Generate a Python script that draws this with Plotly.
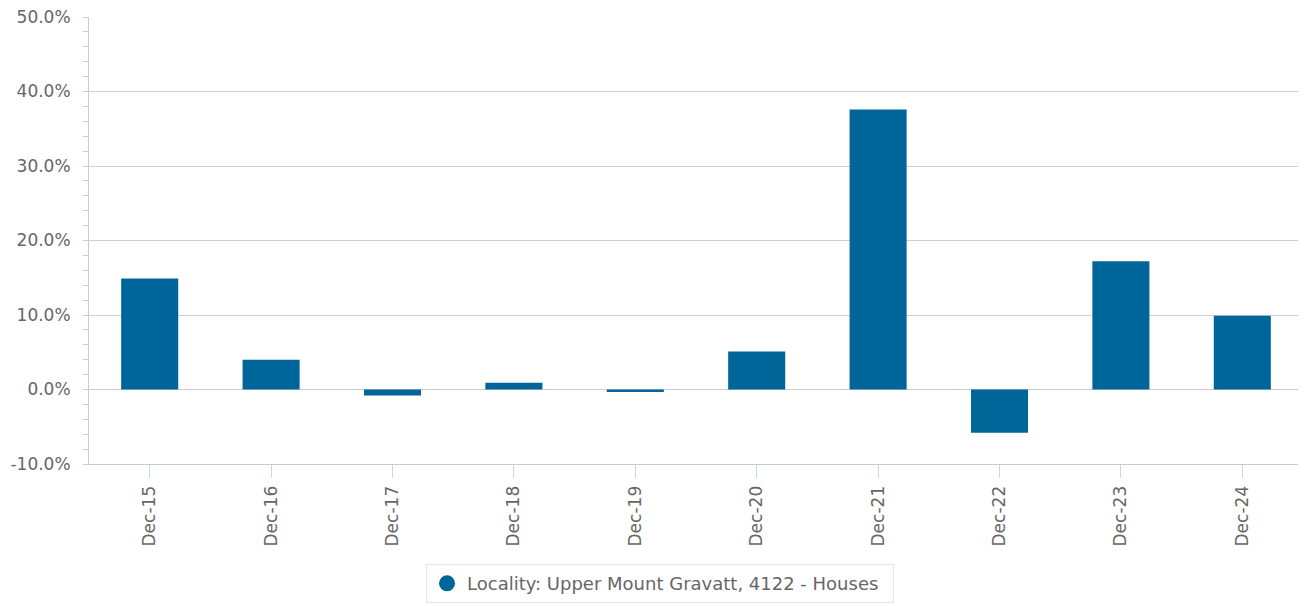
import plotly.graph_objects as go

categories = ["Dec-15", "Dec-16", "Dec-17", "Dec-18", "Dec-19",
              "Dec-20", "Dec-21", "Dec-22", "Dec-23", "Dec-24"]
growth_pct = [14.9, 4.0, -0.8, 0.9, -0.35, 5.1, 37.6, -5.8, 17.2, 9.9]
series_name = "Locality: Upper Mount Gravatt, 4122 - Houses"
y_ticks = [-10, 0, 10, 20, 30, 40, 50]

BAR = "#006699"
FONT = "DejaVu Sans"

fig = go.Figure()
fig.add_trace(go.Bar(
    x=categories, y=growth_pct, marker_color=BAR,
    marker_line_width=0, width=0.47, showlegend=False,
))
fig.add_trace(go.Scatter(
    x=[None], y=[None], mode="markers", name=series_name,
    marker=dict(symbol="circle", size=16, color=BAR),
))

# page body has an 8px default margin, so the figure is drawn 8px smaller
fig.update_layout(
    width=1298, height=598,
    margin=dict(l=81, r=3, t=9, b=142),
    plot_bgcolor="white", paper_bgcolor="white",
    font=dict(family=FONT, size=17, color="#666666"),
    legend=dict(
        orientation="h", x=0.2776, xanchor="left", y=-0.224, yanchor="top",
        bordercolor="#e6e6e6", borderwidth=1,
        font=dict(size=18, color="#666666"),
        entrywidth=421, entrywidthmode="pixels",
    ),
    xaxis=dict(
        type="category", showgrid=False, tickangle=-90, automargin=False,
        ticks="outside", ticklen=13, tickcolor="#ccd6eb",
        showline=True, linecolor="#cccccc", linewidth=1,
        tickfont=dict(size=17, color="#666666"),
        ticklabelstandoff=1,
        range=[-0.5, 9.5],
    ),
    yaxis=dict(
        range=[-10, 50], tickvals=y_ticks, automargin=False,
        ticktext=[f"{v:.1f}%" for v in y_ticks],
        ticklabeloverflow="allow",
        showgrid=True, gridcolor="#d0d0d0", gridwidth=1,
        zeroline=True, zerolinecolor="#cccccc", zerolinewidth=1,
        showline=True, linecolor="#cccccc", linewidth=1,
        ticks="outside", ticklen=5, tickcolor="#cccccc",
        minor=dict(dtick=2, ticks="outside", ticklen=5, tickcolor="#cccccc", showgrid=False),
        tickfont=dict(size=17, color="#666666"),
        ticklabelstandoff=9,
    ),
)

fig.write_html("out.html")
